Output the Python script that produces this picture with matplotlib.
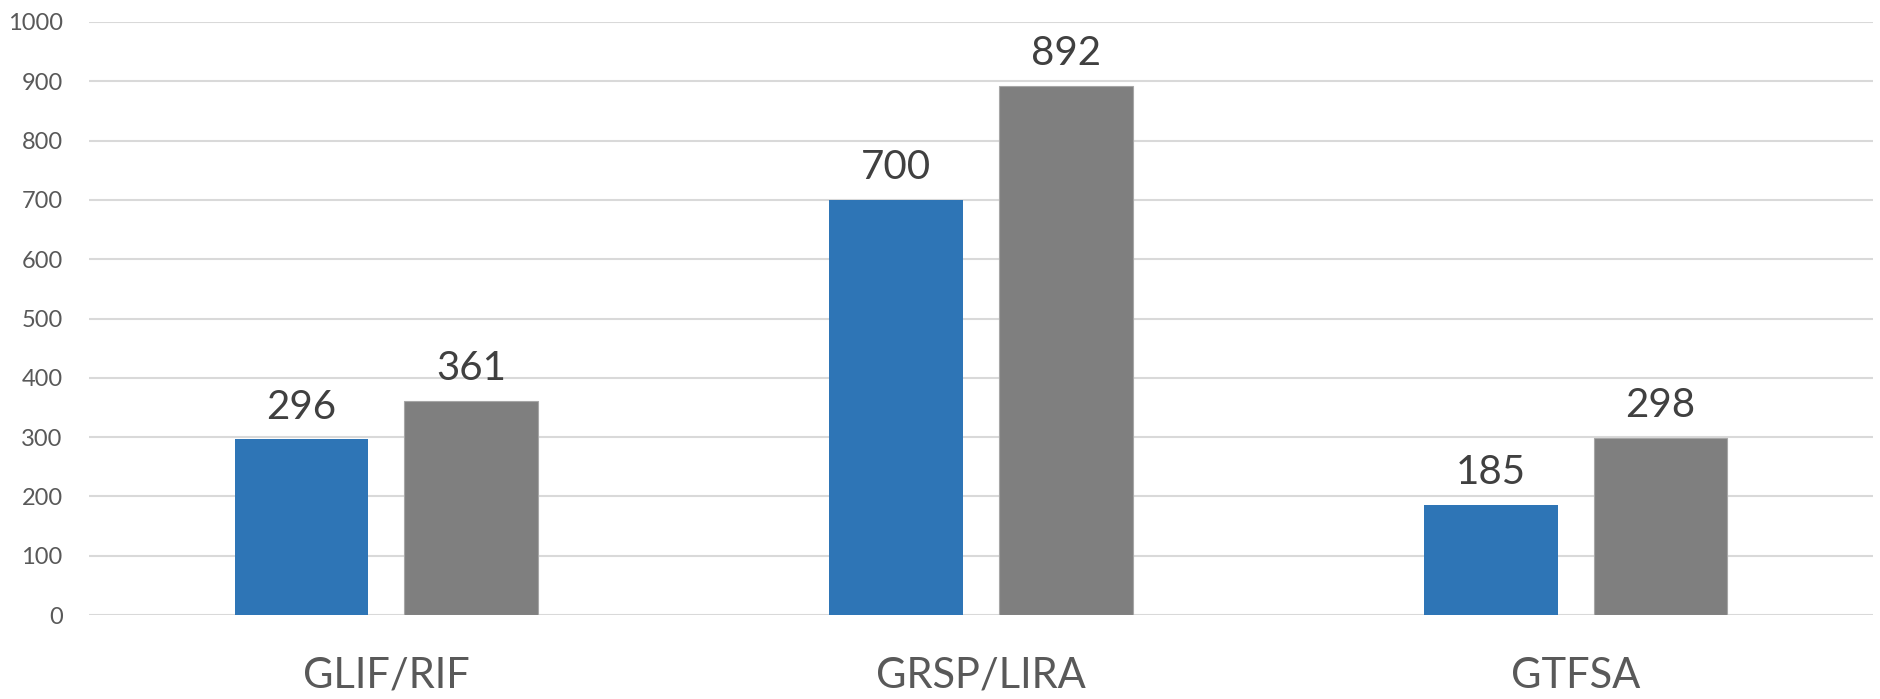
import matplotlib
matplotlib.use("Agg")
import matplotlib.pyplot as plt
import numpy as np

categories = ["GLIF/RIF", "GRSP/LIRA", "GTFSA"]
series_a = [296, 700, 185]
series_b = [361, 892, 298]
y_ticks = [0, 100, 200, 300, 400, 500, 600, 700, 800, 900, 1000]

plt.rcParams["font.family"] = ["Lato", "DejaVu Sans"]

fig = plt.figure(figsize=(18.81, 6.99), dpi=100)
ax = fig.add_axes([89 / 1881, 1 - 615 / 699, (1873 - 89) / 1881, (615 - 22) / 699])

x = np.arange(len(categories))
w = 0.225
off = w / 2 + 0.03
bars_a = ax.bar(x - off, series_a, width=w, color="#2E75B6", zorder=3)
bars_b = ax.bar(x + off, series_b, width=w, color="#7F7F7F",
                edgecolor="#A6A6A6", linewidth=0.8, zorder=3)

for bars, vals in ((bars_a, series_a), (bars_b, series_b)):
    for b, v in zip(bars, vals):
        ax.annotate(str(v), (b.get_x() + b.get_width() / 2, v),
                    xytext=(0, 10), textcoords="offset points",
                    ha="center", va="bottom", fontsize=29, color="#404040")

ax.set_xlim(-0.5, 2.5)
ax.set_ylim(0, 1000)
ax.set_yticks(y_ticks)
ax.set_yticklabels([str(t) for t in y_ticks])
ax.set_xticks(x)
ax.set_xticklabels(categories)
ax.tick_params(axis="y", length=0, pad=19, labelsize=17, labelcolor="#595959")
ax.tick_params(axis="x", length=0, pad=30, labelsize=30, labelcolor="#595959")
ax.grid(axis="y", color="#D9D9D9", linewidth=1.5, zorder=0)
for s in ax.spines.values():
    s.set_visible(False)

fig.savefig("out.png", dpi=100)
